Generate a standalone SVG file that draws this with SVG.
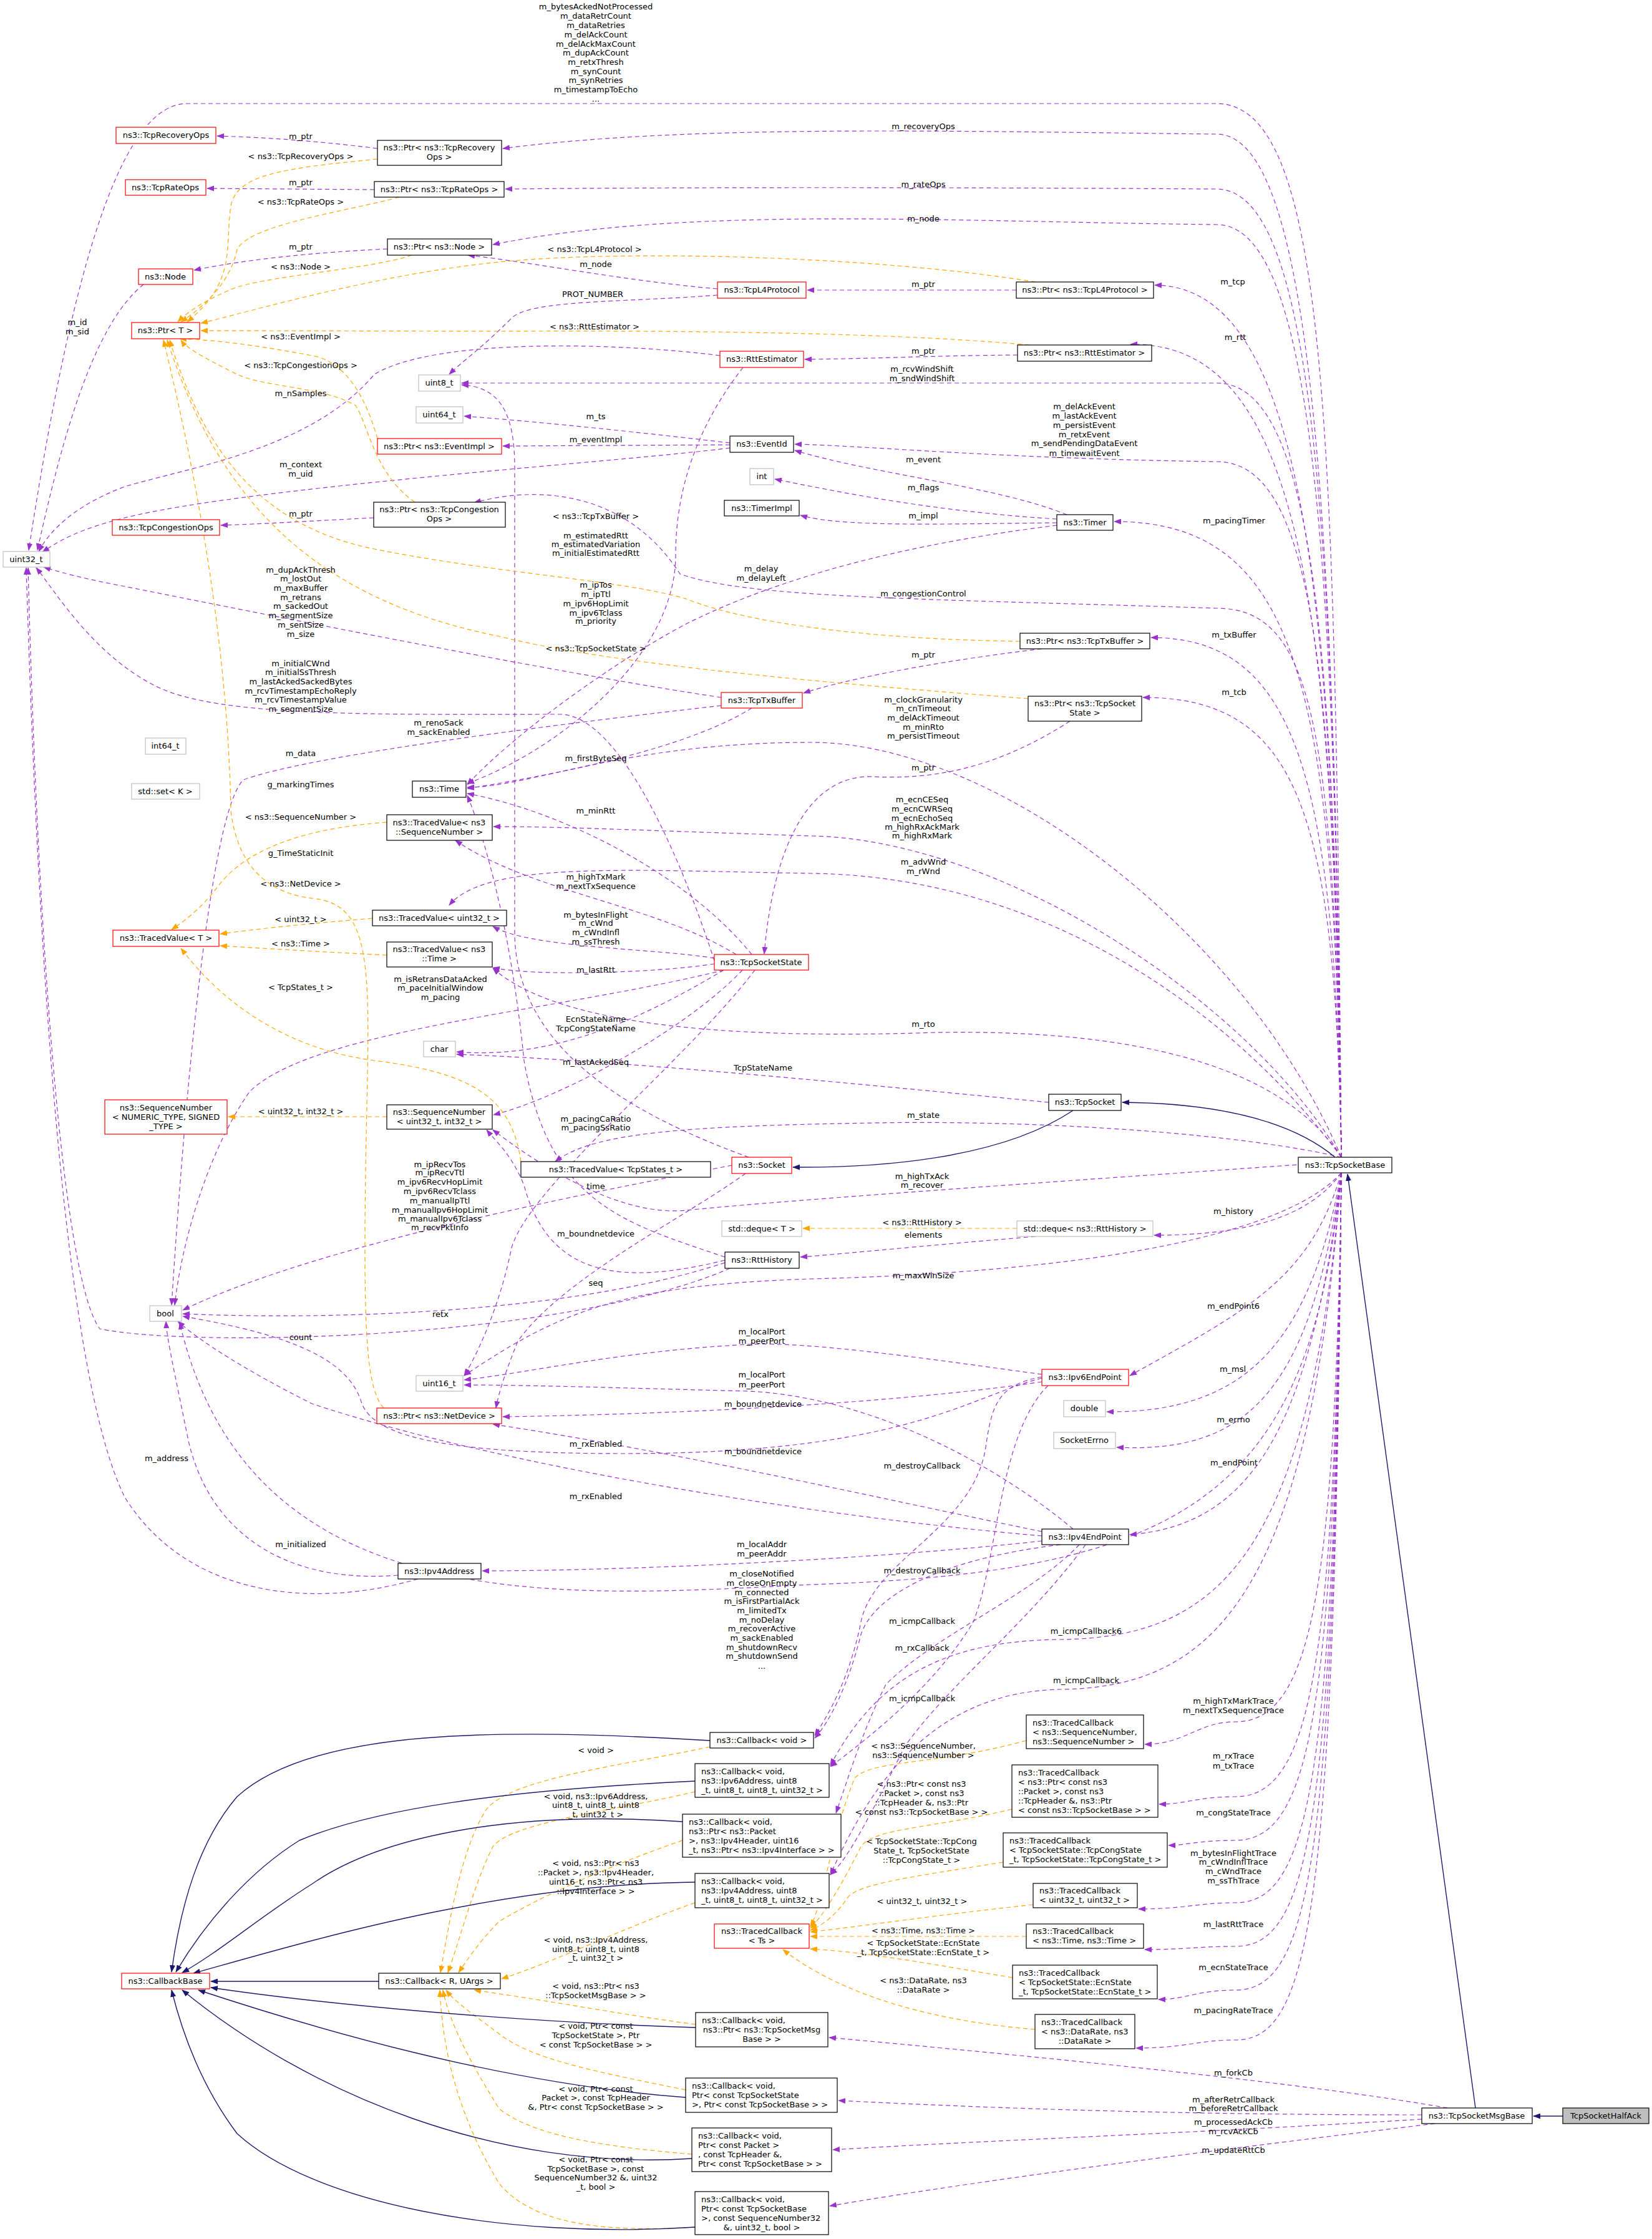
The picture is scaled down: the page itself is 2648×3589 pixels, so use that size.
<svg xmlns="http://www.w3.org/2000/svg" width="2648" height="3589" viewBox="0 0 2648 3589">
<style>
text{font-family:"DejaVu Sans","Liberation Sans",sans-serif;font-size:13px;fill:#000}
.n rect{fill:#fff;stroke:#000;stroke-width:1.2}
.r rect{fill:#fff;stroke:#f00;stroke-width:1.2}
.g rect{fill:#fff;stroke:#bfbfbf;stroke-width:1.2}
.h rect{fill:#bfbfbf;stroke:#000;stroke-width:1.2}
.c{text-anchor:middle}
.p{fill:none;stroke:#9a32cd;stroke-width:1.2;stroke-dasharray:7,5;marker-end:url(#mp)}
.o{fill:none;stroke:#ffa500;stroke-width:1.2;stroke-dasharray:7,5;marker-end:url(#mo)}
.b{fill:none;stroke:#191970;stroke-width:1.4;marker-end:url(#mb)}
.l text{text-anchor:middle}
</style>
<defs>
<marker id="mp" markerWidth="12" markerHeight="9" refX="11" refY="4.5" orient="auto" markerUnits="userSpaceOnUse"><path d="M0,0 L12,4.5 L0,9 z" fill="#9a32cd"/></marker>
<marker id="mo" markerWidth="12" markerHeight="9" refX="11" refY="4.5" orient="auto" markerUnits="userSpaceOnUse"><path d="M0,0 L12,4.5 L0,9 z" fill="#ffa500"/></marker>
<marker id="mb" markerWidth="12" markerHeight="9" refX="11" refY="4.5" orient="auto" markerUnits="userSpaceOnUse"><path d="M0,0 L12,4.5 L0,9 z" fill="#191970"/></marker>
</defs>
<rect width="2648" height="3589" fill="#fff"/>
<g id="connectors">
<!-- TcpSocketBase members -->
<path class="p" d="M2150,1855 C2140,700 2130,166 1950,166 L300,166 C200,166 120,400 46,882"/>
<path class="p" d="M2150,1855 C2140,800 2100,215 1950,215 C1500,210 1100,200 806,238"/>
<path class="p" d="M2150,1855 C2140,800 2100,303 1950,303 C1500,300 1100,300 810,303"/>
<path class="p" d="M2150,1855 C2140,850 2100,360 1950,360 C1500,355 1100,330 790,392"/>
<path class="p" d="M2150,1855 C2140,900 2080,460 1851,457"/>
<path class="p" d="M2150,1855 C2140,950 2080,548 1812,552"/>
<path class="p" d="M2150,1855 C2140,1000 2100,614 1950,614 L740,614"/>
<path class="p" d="M2150,1855 C2140,1050 2100,740 1950,740 C1600,735 1400,715 1274,712"/>
<path class="p" d="M2150,1855 C2140,1100 2080,836 1786,836"/>
<path class="p" d="M2150,1855 C2140,1150 2100,975 1950,975 C1500,960 1200,960 1090,920 C1000,780 850,780 760,806"/>
<path class="p" d="M2150,1855 C2140,1250 2080,1022 1845,1022"/>
<path class="p" d="M2150,1855 C2140,1300 2080,1118 1832,1118"/>
<path class="p" d="M2150,1855 C2000,1500 1600,1190 1300,1190 C1000,1190 850,1262 749,1262"/>
<path class="p" d="M2150,1855 C2000,1600 1600,1345 1300,1340 C1000,1330 900,1325 791,1325"/>
<path class="p" d="M2150,1855 C2000,1650 1700,1405 1300,1400 C1000,1395 780,1380 720,1451"/>
<path class="p" d="M2150,1855 C2050,1700 1800,1650 1500,1655 C1200,1665 900,1650 790,1552"/>
<path class="p" d="M2150,1855 C2000,1820 1700,1795 1400,1800 C1100,1805 950,1815 890,1862"/>
<path class="p" d="M2150,1862 C1900,1880 1300,1920 1100,1940 C1000,1950 880,1880 790,1811"/>
<path class="p" d="M2150,1880 C2100,1950 2000,1980 1850,1980"/>
<path class="p" d="M2150,1880 C2050,1990 1700,2040 1300,2050 C1000,2060 900,2100 744,2205"/>
<path class="p" d="M2150,1880 C2100,2050 2000,2100 1811,2205"/>
<path class="p" d="M2150,1880 C2100,2150 2000,2265 1774,2263"/>
<path class="p" d="M2150,1880 C2100,2230 2000,2330 1790,2320"/>
<path class="p" d="M2150,1880 C2100,2300 2000,2445 1811,2460"/>
<path class="p" d="M2150,1880 C2100,2400 1900,2520 1300,2540 C900,2560 400,2600 288,2120"/>
<path class="p" d="M2150,1880 C2100,2500 1950,2625 1700,2628 C1500,2630 1400,2700 1331,2830"/>
<path class="p" d="M2150,1880 C2100,2550 1950,2705 1700,2708 C1500,2712 1400,2850 1331,3005"/>
<path class="p" d="M2150,1880 C2140,2560 2100,2760 1980,2760 C1920,2760 1900,2796 1835,2796"/>
<path class="p" d="M2150,1880 C2140,2680 2100,2880 1980,2880 C1920,2880 1900,2892 1858,2892"/>
<path class="p" d="M2150,1880 C2140,2750 2100,2950 1980,2950 C1920,2950 1900,2958 1873,2958"/>
<path class="p" d="M2150,1880 C2140,2850 2100,3050 1980,3050 C1920,3050 1900,3060 1825,3060"/>
<path class="p" d="M2150,1880 C2140,2920 2100,3120 1980,3120 C1920,3120 1900,3125 1835,3125"/>
<path class="p" d="M2150,1880 C2140,2990 2100,3190 1980,3190 C1920,3190 1900,3205 1857,3205"/>
<path class="p" d="M2150,1880 C2140,3070 2100,3270 1980,3270 C1920,3270 1900,3283 1821,3283"/>
<!-- TcpSocketMsgBase members -->
<path class="p" d="M2320,3379 C2100,3340 1700,3300 1329,3266"/>
<path class="p" d="M2279,3390 C1900,3390 1600,3380 1344,3367"/>
<path class="p" d="M2279,3397 C1900,3420 1600,3430 1335,3446"/>
<path class="p" d="M2300,3404 C2000,3440 1600,3490 1330,3536"/>
<!-- other members -->
<path class="p" d="M605,238 C500,225 420,220 348,218"/>
<path class="p" d="M600,304 L332,302"/>
<path class="p" d="M621,399 C500,405 400,415 311,433"/>
<path class="p" d="M230,456 C150,520 100,700 60,882"/>
<path class="p" d="M1150,463 C1000,450 850,420 750,409"/>
<path class="p" d="M1150,473 C1000,485 850,480 820,510 C770,560 740,580 720,600"/>
<path class="p" d="M1629,465 L1294,465"/>
<path class="p" d="M1631,569 C1500,570 1400,575 1290,576"/>
<path class="p" d="M1154,570 C1000,550 700,540 600,600 C500,720 300,750 200,780 C120,810 80,850 62,884"/>
<path class="p" d="M1191,589 C1120,680 1083,780 1083,890 C1083,1050 900,1200 749,1256"/>
<path class="p" d="M1170,710 C1000,690 850,675 744,667"/>
<path class="p" d="M1170,713 L806,715"/>
<path class="p" d="M1170,718 C1000,740 400,780 200,830 C120,850 90,870 68,885"/>
<path class="p" d="M599,830 C500,835 420,840 354,842"/>
<path class="p" d="M1710,825 C1600,780 1400,760 1274,722"/>
<path class="p" d="M1694,832 C1500,820 1350,790 1242,768"/>
<path class="p" d="M1694,838 C1500,840 1350,845 1283,826"/>
<path class="p" d="M1694,842 C1550,860 1300,900 1100,1000 C950,1080 800,1200 749,1258"/>
<path class="p" d="M1670,1040 C1500,1060 1350,1090 1288,1111"/>
<path class="p" d="M1156,1118 C900,1080 400,980 200,940 C120,925 90,915 70,909"/>
<path class="p" d="M1156,1131 C900,1160 500,1210 390,1250 C340,1300 300,1700 275,2092"/>
<path class="p" d="M1205,1135 C1100,1200 900,1240 749,1264"/>
<path class="p" d="M1715,1156 C1600,1230 1500,1250 1400,1245 C1300,1240 1240,1350 1225,1529"/>
<path class="p" d="M1145,1540 C1100,1400 1000,1150 900,1145 C600,1145 350,1150 250,1100 C150,1050 90,950 58,910"/>
<path class="p" d="M1205,1530 C1100,1400 900,1300 749,1272"/>
<path class="p" d="M1180,1530 C1050,1450 850,1430 730,1347"/>
<path class="p" d="M1145,1536 C1050,1520 850,1520 790,1485"/>
<path class="p" d="M1145,1545 C1050,1560 850,1565 790,1551"/>
<path class="p" d="M1160,1555 C900,1620 500,1650 400,1750 C330,1850 290,2000 280,2092"/>
<path class="p" d="M1160,1555 C1050,1620 900,1700 732,1686"/>
<path class="p" d="M1190,1555 C1100,1650 900,1760 791,1787"/>
<path class="p" d="M1210,1555 C1100,1700 850,1900 820,2000 C800,2100 760,2180 744,2205"/>
<path class="p" d="M1681,1767 C1400,1740 1000,1700 732,1690"/>
<path class="p" d="M1173,1868 C900,1920 500,2000 293,2100"/>
<path class="p" d="M1195,1881 C1100,1950 900,2050 830,2150 C810,2200 800,2230 795,2257"/>
<path class="p" d="M1200,1855 C1050,1800 830,1700 825,1500 L825,750 C825,660 800,620 740,617"/>
<path class="p" d="M1162,2015 C1000,1960 880,1930 840,1700 C820,1500 780,1350 749,1275"/>
<path class="p" d="M1162,2020 C1000,2060 880,2050 840,1900 C820,1850 795,1830 780,1811"/>
<path class="p" d="M1162,2024 C900,2110 500,2115 293,2106"/>
<path class="p" d="M1170,2033 C900,2150 300,2160 160,2130 C100,2050 60,1500 45,910"/>
<path class="p" d="M1660,1982 C1500,1995 1350,2010 1283,2015"/>
<path class="p" d="M1670,2203 C1500,2180 1300,2150 1200,2155 C1000,2165 850,2200 744,2212"/>
<path class="p" d="M1720,2451 C1600,2350 1400,2240 1200,2230 C1000,2225 850,2220 744,2220"/>
<path class="p" d="M1670,2215 C1500,2240 1200,2265 806,2271"/>
<path class="p" d="M1670,2455 C1400,2400 1100,2330 790,2283"/>
<path class="p" d="M1670,2209 C1550,2240 1450,2330 1000,2330 C700,2330 600,2300 580,2250 C560,2180 470,2140 293,2110"/>
<path class="p" d="M1670,2462 C1300,2430 800,2350 500,2250 C400,2200 320,2150 285,2118"/>
<path class="p" d="M670,2531 C500,2580 300,2560 200,2400 C100,2200 60,1500 42,910"/>
<path class="p" d="M638,2525 C450,2540 330,2450 300,2300 C280,2200 268,2150 266,2118"/>
<path class="p" d="M1670,2470 C1400,2500 1000,2518 773,2518"/>
<path class="p" d="M1670,2207 C1600,2220 1590,2250 1580,2320 C1560,2450 1400,2500 1380,2600 C1360,2700 1320,2760 1306,2782"/>
<path class="p" d="M1700,2476 C1500,2500 1400,2560 1380,2620 C1360,2700 1330,2760 1306,2786"/>
<path class="p" d="M1680,2221 C1600,2300 1600,2500 1560,2600 C1500,2700 1400,2780 1331,2832"/>
<path class="p" d="M1730,2476 C1650,2560 1500,2620 1420,2700 C1380,2780 1360,2850 1340,2906"/>
<path class="p" d="M1740,2476 C1650,2600 1520,2700 1450,2800 C1400,2900 1360,2980 1331,3005"/>
<!-- template instantiations -->
<path class="o" d="M605,255 C450,270 380,280 370,330 C360,400 380,450 300,516"/>
<path class="o" d="M640,316 C550,340 400,360 380,400 C370,450 330,490 290,516"/>
<path class="o" d="M660,409 C600,430 450,440 380,460 C330,480 300,500 285,516"/>
<path class="o" d="M1660,452 C1400,410 1000,400 800,420 C600,440 400,500 322,518"/>
<path class="o" d="M1650,553 C1400,530 1000,530 800,531 L322,530"/>
<path class="o" d="M605,703 C590,650 560,580 500,570 C420,555 350,545 288,543"/>
<path class="o" d="M665,805 C600,760 590,680 570,650 C520,620 420,620 380,600 C340,580 300,560 290,545"/>
<path class="o" d="M1635,1028 C1400,1025 1200,1000 1100,960 C1000,930 800,920 600,880 C400,840 320,700 272,545"/>
<path class="o" d="M1648,1120 C1400,1100 1000,1070 800,1020 C500,960 350,800 268,545"/>
<path class="o" d="M615,2257 C590,2230 585,2150 585,2000 C585,1600 620,1450 500,1440 C420,1430 380,1380 370,1300 C365,1000 300,700 262,545"/>
<path class="o" d="M620,1318 C450,1330 380,1380 350,1420 C320,1460 290,1480 275,1490"/>
<path class="o" d="M597,1472 C500,1480 420,1488 353,1497"/>
<path class="o" d="M620,1531 C500,1525 420,1520 353,1516"/>
<path class="o" d="M835,1862 C820,1760 760,1720 600,1700 C450,1680 350,1600 290,1520"/>
<path class="o" d="M620,1790 L366,1790"/>
<path class="o" d="M1630,1969 L1287,1969"/>
<path class="o" d="M1138,2800 C1000,2830 820,2850 780,2900 C740,2960 720,3080 706,3162"/>
<path class="o" d="M1114,2872 C1000,2900 820,2920 790,2960 C760,3020 740,3100 718,3162"/>
<path class="o" d="M1094,2950 C950,3000 850,3050 800,3080 C770,3110 750,3140 735,3162"/>
<path class="o" d="M1114,3050 C1000,3090 900,3140 804,3172"/>
<path class="o" d="M1115,3245 C1000,3230 900,3210 760,3190"/>
<path class="o" d="M1099,3350 C950,3320 850,3300 800,3260 C760,3230 730,3210 715,3190"/>
<path class="o" d="M1109,3453 C950,3440 850,3420 800,3380 C750,3300 720,3240 710,3190"/>
<path class="o" d="M1114,3570 C950,3580 850,3560 800,3500 C740,3400 710,3300 705,3190"/>
<path class="o" d="M1645,2790 C1500,2830 1400,2820 1370,2850 C1330,2950 1320,3050 1299,3088"/>
<path class="o" d="M1622,2900 C1500,2930 1400,2930 1380,2960 C1350,3020 1320,3070 1299,3091"/>
<path class="o" d="M1608,2985 C1450,3010 1380,3020 1360,3040 C1340,3070 1320,3085 1299,3094"/>
<path class="o" d="M1656,3053 C1500,3070 1400,3085 1299,3097"/>
<path class="o" d="M1645,3104 L1299,3104"/>
<path class="o" d="M1623,3170 C1500,3150 1400,3130 1299,3124"/>
<path class="o" d="M1659,3253 C1500,3240 1350,3200 1255,3125"/>
<!-- inheritance -->
<path class="b" d="M607,3176 L338,3176"/>
<path class="b" d="M1138,2790 C800,2770 500,2770 380,2880 C320,2950 290,3050 275,3161"/>
<path class="b" d="M1114,2855 C800,2870 600,2900 480,2950 C400,3000 330,3080 282,3161"/>
<path class="b" d="M1094,2920 C800,2900 600,2950 500,3020 C420,3070 350,3130 292,3162"/>
<path class="b" d="M1114,3017 C800,3020 500,3110 310,3163"/>
<path class="b" d="M1115,3250 C800,3240 500,3210 338,3186"/>
<path class="b" d="M1099,3362 C800,3340 500,3250 318,3190"/>
<path class="b" d="M1109,3460 C800,3480 500,3360 292,3190"/>
<path class="b" d="M1114,3570 C800,3590 500,3530 380,3420 C320,3340 290,3250 275,3190"/>
<path class="b" d="M2140,1855 C2050,1780 1900,1768 1799,1767"/>
<path class="b" d="M1720,1780 C1600,1860 1400,1872 1271,1871"/>
<path class="b" d="M2365,3379 L2160,1882"/>
<path class="b" d="M2505,3392 L2458,3392"/>
</g>
<g id="labels" class="l">
<text x="955" y="15">m_bytesAckedNotProcessed</text><text x="955" y="30">m_dataRetrCount</text><text x="955" y="45">m_dataRetries</text><text x="955" y="60">m_delAckCount</text><text x="955" y="75">m_delAckMaxCount</text><text x="955" y="89">m_dupAckCount</text><text x="955" y="104">m_retxThresh</text><text x="955" y="119">m_synCount</text><text x="955" y="133">m_synRetries</text><text x="955" y="148">m_timestampToEcho</text><text x="955" y="163">...</text>
<text x="1480" y="207">m_recoveryOps</text>
<text x="1480" y="300">m_rateOps</text>
<text x="1480" y="355">m_node</text>
<text x="1976" y="456">m_tcp</text>
<text x="1980" y="545">m_rtt</text>
<text x="1478" y="596">m_rcvWindShift</text><text x="1478" y="611">m_sndWindShift</text>
<text x="1738" y="656">m_delAckEvent</text><text x="1738" y="671">m_lastAckEvent</text><text x="1738" y="686">m_persistEvent</text><text x="1738" y="701">m_retxEvent</text><text x="1738" y="715">m_sendPendingDataEvent</text><text x="1738" y="731">m_timewaitEvent</text>
<text x="1978" y="839">m_pacingTimer</text>
<text x="1480" y="956">m_congestionControl</text>
<text x="1978" y="1022">m_txBuffer</text>
<text x="1978" y="1114">m_tcb</text>
<text x="1480" y="1126">m_clockGranularity</text><text x="1480" y="1140">m_cnTimeout</text><text x="1480" y="1155">m_delAckTimeout</text><text x="1480" y="1170">m_minRto</text><text x="1480" y="1184">m_persistTimeout</text>
<text x="1478" y="1286">m_ecnCESeq</text><text x="1478" y="1301">m_ecnCWRSeq</text><text x="1478" y="1316">m_ecnEchoSeq</text><text x="1478" y="1330">m_highRxAckMark</text><text x="1478" y="1344">m_highRxMark</text>
<text x="1480" y="1386">m_advWnd</text><text x="1480" y="1401">m_rWnd</text>
<text x="1480" y="1646">m_rto</text>
<text x="1223" y="1716">TcpStateName</text>
<text x="1480" y="1792">m_state</text>
<text x="1478" y="1890">m_highTxAck</text><text x="1478" y="1904">m_recover</text>
<text x="1977" y="1946">m_history</text>
<text x="1480" y="2049">m_maxWinSize</text>
<text x="1977" y="2098">m_endPoint6</text>
<text x="1976" y="2199">m_msl</text>
<text x="1977" y="2280">m_errno</text>
<text x="1978" y="2349">m_endPoint</text>
<text x="1221" y="2527">m_closeNotified</text><text x="1221" y="2542">m_closeOnEmpty</text><text x="1221" y="2557">m_connected</text><text x="1221" y="2571">m_isFirstPartialAck</text><text x="1221" y="2586">m_limitedTx</text><text x="1221" y="2601">m_noDelay</text><text x="1221" y="2615">m_recoverActive</text><text x="1221" y="2630">m_sackEnabled</text><text x="1221" y="2645">m_shutdownRecv</text><text x="1221" y="2659">m_shutdownSend</text><text x="1221" y="2675">...</text>
<text x="1741" y="2619">m_icmpCallback6</text>
<text x="1741" y="2698">m_icmpCallback</text>
<text x="1977" y="2731">m_highTxMarkTrace</text><text x="1977" y="2746">m_nextTxSequenceTrace</text>
<text x="1977" y="2819">m_rxTrace</text><text x="1977" y="2835">m_txTrace</text>
<text x="1977" y="2910">m_congStateTrace</text>
<text x="1977" y="2975">m_bytesInFlightTrace</text><text x="1977" y="2989">m_cWndInflTrace</text><text x="1977" y="3004">m_cWndTrace</text><text x="1977" y="3019">m_ssThTrace</text>
<text x="1977" y="3089">m_lastRttTrace</text>
<text x="1977" y="3158">m_ecnStateTrace</text>
<text x="1977" y="3227">m_pacingRateTrace</text>
<text x="1977" y="3327">m_forkCb</text>
<text x="1977" y="3370">m_afterRetrCallback</text><text x="1977" y="3384">m_beforeRetrCallback</text>
<text x="1977" y="3406">m_processedAckCb</text><text x="1977" y="3421">m_rcvAckCb</text>
<text x="1977" y="3451">m_updateRttCb</text>
<text x="482" y="223">m_ptr</text>
<text x="482" y="255">&lt; ns3::TcpRecoveryOps &gt;</text>
<text x="482" y="297">m_ptr</text>
<text x="482" y="328">&lt; ns3::TcpRateOps &gt;</text>
<text x="482" y="400">m_ptr</text>
<text x="482" y="432">&lt; ns3::Node &gt;</text>
<text x="953" y="404">&lt; ns3::TcpL4Protocol &gt;</text>
<text x="955" y="428">m_node</text>
<text x="950" y="476">PROT_NUMBER</text>
<text x="1480" y="460">m_ptr</text>
<text x="953" y="528">&lt; ns3::RttEstimator &gt;</text>
<text x="1480" y="567">m_ptr</text>
<text x="482" y="544">&lt; ns3::EventImpl &gt;</text>
<text x="482" y="590">&lt; ns3::TcpCongestionOps &gt;</text>
<text x="482" y="635">m_nSamples</text>
<text x="124" y="521">m_id</text><text x="124" y="536">m_sid</text>
<text x="955" y="672">m_ts</text>
<text x="955" y="709">m_eventImpl</text>
<text x="482" y="749">m_context</text><text x="482" y="764">m_uid</text>
<text x="1480" y="741">m_event</text>
<text x="1480" y="786">m_flags</text>
<text x="1480" y="831">m_impl</text>
<text x="482" y="828">m_ptr</text>
<text x="955" y="832">&lt; ns3::TcpTxBuffer &gt;</text>
<text x="955" y="863">m_estimatedRtt</text><text x="955" y="877">m_estimatedVariation</text><text x="955" y="891">m_initialEstimatedRtt</text>
<text x="1220" y="916">m_delay</text><text x="1220" y="931">m_delayLeft</text>
<text x="482" y="918">m_dupAckThresh</text><text x="482" y="932">m_lostOut</text><text x="482" y="947">m_maxBuffer</text><text x="482" y="962">m_retrans</text><text x="482" y="976">m_sackedOut</text><text x="482" y="991">m_segmentSize</text><text x="482" y="1006">m_sentSize</text><text x="482" y="1021">m_size</text>
<text x="955" y="942">m_ipTos</text><text x="955" y="957">m_ipTtl</text><text x="955" y="972">m_ipv6HopLimit</text><text x="955" y="987">m_ipv6Tclass</text><text x="955" y="1000">m_priority</text>
<text x="955" y="1044">&lt; ns3::TcpSocketState &gt;</text>
<text x="1480" y="1054">m_ptr</text>
<text x="482" y="1068">m_initialCWnd</text><text x="482" y="1082">m_initialSsThresh</text><text x="482" y="1097">m_lastAckedSackedBytes</text><text x="482" y="1112">m_rcvTimestampEchoReply</text><text x="482" y="1126">m_rcvTimestampValue</text><text x="482" y="1141">m_segmentSize</text>
<text x="703" y="1163">m_renoSack</text><text x="703" y="1178">m_sackEnabled</text>
<text x="482" y="1212">m_data</text>
<text x="955" y="1220">m_firstByteSeq</text>
<text x="1480" y="1235">m_ptr</text>
<text x="482" y="1262">g_markingTimes</text>
<text x="955" y="1304">m_minRtt</text>
<text x="482" y="1314">&lt; ns3::SequenceNumber &gt;</text>
<text x="482" y="1372">g_TimeStaticInit</text>
<text x="955" y="1410">m_highTxMark</text><text x="955" y="1425">m_nextTxSequence</text>
<text x="482" y="1421">&lt; ns3::NetDevice &gt;</text>
<text x="955" y="1471">m_bytesInFlight</text><text x="955" y="1484">m_cWnd</text><text x="955" y="1499">m_cWndInfl</text><text x="955" y="1514">m_ssThresh</text>
<text x="482" y="1478">&lt; uint32_t &gt;</text>
<text x="482" y="1517">&lt; ns3::Time &gt;</text>
<text x="955" y="1559">m_lastRtt</text>
<text x="706" y="1574">m_isRetransDataAcked</text><text x="706" y="1588">m_paceInitialWindow</text><text x="706" y="1603">m_pacing</text>
<text x="482" y="1587">&lt; TcpStates_t &gt;</text>
<text x="955" y="1638">EcnStateName</text><text x="955" y="1653">TcpCongStateName</text>
<text x="955" y="1707">m_lastAckedSeq</text>
<text x="482" y="1786">&lt; uint32_t, int32_t &gt;</text>
<text x="955" y="1798">m_pacingCaRatio</text><text x="955" y="1812">m_pacingSsRatio</text>
<text x="705" y="1871">m_ipRecvTos</text><text x="705" y="1884">m_ipRecvTtl</text><text x="705" y="1899">m_ipv6RecvHopLimit</text><text x="705" y="1914">m_ipv6RecvTclass</text><text x="705" y="1929">m_manualIpTtl</text><text x="705" y="1944">m_manualIpv6HopLimit</text><text x="705" y="1958">m_manualIpv6Tclass</text><text x="705" y="1972">m_recvPktInfo</text>
<text x="955" y="1906">time</text>
<text x="1478" y="1964">&lt; ns3::RttHistory &gt;</text>
<text x="955" y="1982">m_boundnetdevice</text>
<text x="1480" y="1984">elements</text>
<text x="955" y="2061">seq</text>
<text x="706" y="2111">retx</text>
<text x="482" y="2148">count</text>
<text x="1221" y="2139">m_localPort</text><text x="1221" y="2154">m_peerPort</text>
<text x="1221" y="2208">m_localPort</text><text x="1221" y="2224">m_peerPort</text>
<text x="1223" y="2255">m_boundnetdevice</text>
<text x="955" y="2319">m_rxEnabled</text>
<text x="1223" y="2331">m_boundnetdevice</text>
<text x="267" y="2342">m_address</text>
<text x="1478" y="2354">m_destroyCallback</text>
<text x="955" y="2403">m_rxEnabled</text>
<text x="482" y="2480">m_initialized</text>
<text x="1221" y="2480">m_localAddr</text><text x="1221" y="2495">m_peerAddr</text>
<text x="1478" y="2522">m_destroyCallback</text>
<text x="1478" y="2603">m_icmpCallback</text>
<text x="1478" y="2646">m_rxCallback</text>
<text x="1478" y="2727">m_icmpCallback</text>
<text x="955" y="2810">&lt; void &gt;</text>
<text x="955" y="2884">&lt; void, ns3::Ipv6Address,</text><text x="955" y="2898">uint8_t, uint8_t, uint8</text><text x="955" y="2913">_t, uint32_t &gt;</text>
<text x="955" y="2991">&lt; void, ns3::Ptr&lt; ns3</text><text x="955" y="3006">::Packet &gt;, ns3::Ipv4Header,</text><text x="955" y="3021">uint16_t, ns3::Ptr&lt; ns3</text><text x="955" y="3036">::Ipv4Interface &gt; &gt;</text>
<text x="955" y="3114">&lt; void, ns3::Ipv4Address,</text><text x="955" y="3129">uint8_t, uint8_t, uint8</text><text x="955" y="3143">_t, uint32_t &gt;</text>
<text x="955" y="3188">&lt; void, ns3::Ptr&lt; ns3</text><text x="955" y="3203">::TcpSocketMsgBase &gt; &gt;</text>
<text x="955" y="3252">&lt; void, Ptr&lt; const</text><text x="955" y="3267">TcpSocketState &gt;, Ptr</text><text x="955" y="3282">&lt; const TcpSocketBase &gt; &gt;</text>
<text x="955" y="3353">&lt; void, Ptr&lt; const</text><text x="955" y="3367">Packet &gt;, const TcpHeader</text><text x="955" y="3382">&amp;, Ptr&lt; const TcpSocketBase &gt; &gt;</text>
<text x="955" y="3466">&lt; void, Ptr&lt; const</text><text x="955" y="3481">TcpSocketBase &gt;, const</text><text x="955" y="3495">SequenceNumber32 &amp;, uint32</text><text x="955" y="3510">_t, bool &gt;</text>
<text x="1480" y="2803">&lt; ns3::SequenceNumber,</text><text x="1480" y="2818">ns3::SequenceNumber &gt;</text>
<text x="1477" y="2864">&lt; ns3::Ptr&lt; const ns3</text><text x="1477" y="2879">::Packet &gt;, const ns3</text><text x="1477" y="2894">::TcpHeader &amp;, ns3::Ptr</text><text x="1477" y="2909">&lt; const ns3::TcpSocketBase &gt; &gt;</text>
<text x="1477" y="2956">&lt; TcpSocketState::TcpCong</text><text x="1477" y="2971">State_t, TcpSocketState</text><text x="1477" y="2986">::TcpCongState_t &gt;</text>
<text x="1478" y="3052">&lt; uint32_t, uint32_t &gt;</text>
<text x="1480" y="3099">&lt; ns3::Time, ns3::Time &gt;</text>
<text x="1480" y="3119">&lt; TcpSocketState::EcnState</text><text x="1480" y="3134">_t, TcpSocketState::EcnState_t &gt;</text>
<text x="1480" y="3179">&lt; ns3::DataRate, ns3</text><text x="1480" y="3194">::DataRate &gt;</text>
</g>
<g id="TcpRecoveryOps" class="r"><rect x="186" y="204" width="160" height="26"/><text class="c" x="266" y="221">ns3::TcpRecoveryOps</text></g>
<g id="PtrTcpRecoveryOps" class="n"><rect x="605" y="225" width="199" height="40"/><text class="c" x="704" y="241">ns3::Ptr&lt; ns3::TcpRecovery</text><text class="c" x="704" y="256">Ops &gt;</text></g>
<g id="TcpRateOps" class="r"><rect x="201" y="288" width="129" height="25"/><text class="c" x="265" y="305">ns3::TcpRateOps</text></g>
<g id="PtrTcpRateOps" class="n"><rect x="600" y="291" width="208" height="25"/><text class="c" x="704" y="308">ns3::Ptr&lt; ns3::TcpRateOps &gt;</text></g>
<g id="PtrNode" class="n"><rect x="621" y="383" width="167" height="26"/><text class="c" x="704" y="400">ns3::Ptr&lt; ns3::Node &gt;</text></g>
<g id="Node" class="r"><rect x="222" y="431" width="87" height="25"/><text class="c" x="265" y="448">ns3::Node</text></g>
<g id="PtrT" class="r"><rect x="211" y="517" width="109" height="26"/><text class="c" x="265" y="534">ns3::Ptr&lt; T &gt;</text></g>
<g id="TcpL4Protocol" class="r"><rect x="1150" y="452" width="142" height="26"/><text class="c" x="1221" y="469">ns3::TcpL4Protocol</text></g>
<g id="PtrTcpL4Protocol" class="n"><rect x="1629" y="452" width="220" height="26"/><text class="c" x="1739" y="469">ns3::Ptr&lt; ns3::TcpL4Protocol &gt;</text></g>
<g id="RttEstimator" class="r"><rect x="1154" y="563" width="134" height="26"/><text class="c" x="1221" y="580">ns3::RttEstimator</text></g>
<g id="PtrRttEstimator" class="n"><rect x="1631" y="553" width="215" height="26"/><text class="c" x="1738" y="570">ns3::Ptr&lt; ns3::RttEstimator &gt;</text></g>
<g id="uint8_t" class="g"><rect x="671" y="601" width="67" height="26"/><text class="c" x="704" y="618">uint8_t</text></g>
<g id="uint64_t" class="g"><rect x="667" y="652" width="75" height="26"/><text class="c" x="704" y="669">uint64_t</text></g>
<g id="PtrEventImpl" class="r"><rect x="605" y="703" width="199" height="25"/><text class="c" x="704" y="720">ns3::Ptr&lt; ns3::EventImpl &gt;</text></g>
<g id="EventId" class="n"><rect x="1170" y="699" width="102" height="26"/><text class="c" x="1221" y="716">ns3::EventId</text></g>
<g id="int" class="g"><rect x="1202" y="751" width="38" height="26"/><text class="c" x="1221" y="768">int</text></g>
<g id="TimerImpl" class="n"><rect x="1161" y="802" width="120" height="25"/><text class="c" x="1221" y="819">ns3::TimerImpl</text></g>
<g id="Timer" class="n"><rect x="1694" y="825" width="90" height="25"/><text class="c" x="1739" y="842">ns3::Timer</text></g>
<g id="PtrTcpCongestionOps" class="n"><rect x="599" y="805" width="211" height="40"/><text class="c" x="704" y="821">ns3::Ptr&lt; ns3::TcpCongestion</text><text class="c" x="704" y="836">Ops &gt;</text></g>
<g id="TcpCongestionOps" class="r"><rect x="180" y="833" width="172" height="25"/><text class="c" x="266" y="850">ns3::TcpCongestionOps</text></g>
<g id="uint32_t" class="g"><rect x="5" y="884" width="75" height="25"/><text class="c" x="42" y="901">uint32_t</text></g>
<g id="PtrTcpTxBuffer" class="n"><rect x="1635" y="1015" width="208" height="25"/><text class="c" x="1739" y="1032">ns3::Ptr&lt; ns3::TcpTxBuffer &gt;</text></g>
<g id="TcpTxBuffer" class="r"><rect x="1156" y="1110" width="130" height="25"/><text class="c" x="1221" y="1127">ns3::TcpTxBuffer</text></g>
<g id="PtrTcpSocketState" class="n"><rect x="1648" y="1116" width="182" height="40"/><text class="c" x="1739" y="1132">ns3::Ptr&lt; ns3::TcpSocket</text><text class="c" x="1739" y="1147">State &gt;</text></g>
<g id="int64_t" class="g"><rect x="233" y="1183" width="65" height="26"/><text class="c" x="265" y="1200">int64_t</text></g>
<g id="stdset" class="g"><rect x="211" y="1256" width="109" height="25"/><text class="c" x="265" y="1273">std::set&lt; K &gt;</text></g>
<g id="Time" class="n"><rect x="661" y="1252" width="86" height="26"/><text class="c" x="704" y="1269">ns3::Time</text></g>
<g id="TVSequenceNumber" class="n"><rect x="620" y="1306" width="169" height="41"/><text class="c" x="704" y="1323">ns3::TracedValue&lt; ns3</text><text class="c" x="704" y="1338">::SequenceNumber &gt;</text></g>
<g id="TVuint32" class="n"><rect x="597" y="1459" width="215" height="25"/><text class="c" x="704" y="1476">ns3::TracedValue&lt; uint32_t &gt;</text></g>
<g id="TVT" class="r"><rect x="181" y="1491" width="170" height="26"/><text class="c" x="266" y="1508">ns3::TracedValue&lt; T &gt;</text></g>
<g id="TVTime" class="n"><rect x="620" y="1510" width="169" height="40"/><text class="c" x="704" y="1526">ns3::TracedValue&lt; ns3</text><text class="c" x="704" y="1541">::Time &gt;</text></g>
<g id="TcpSocketState" class="r"><rect x="1145" y="1530" width="151" height="25"/><text class="c" x="1220" y="1547">ns3::TcpSocketState</text></g>
<g id="char" class="g"><rect x="679" y="1669" width="51" height="25"/><text class="c" x="704" y="1686">char</text></g>
<g id="TcpSocket" class="n"><rect x="1681" y="1754" width="116" height="26"/><text class="c" x="1739" y="1771">ns3::TcpSocket</text></g>
<g id="SeqNumT" class="r"><rect x="168" y="1763" width="196" height="55"/><text class="c" x="266" y="1780">ns3::SequenceNumber</text><text class="c" x="266" y="1795">&lt; NUMERIC_TYPE, SIGNED</text><text class="c" x="266" y="1810">_TYPE &gt;</text></g>
<g id="SeqNum32" class="n"><rect x="620" y="1771" width="169" height="39"/><text class="c" x="704" y="1787">ns3::SequenceNumber</text><text class="c" x="704" y="1802">&lt; uint32_t, int32_t &gt;</text></g>
<g id="TcpSocketBase" class="n"><rect x="2081" y="1855" width="150" height="25"/><text class="c" x="2156" y="1872">ns3::TcpSocketBase</text></g>
<g id="Socket" class="r"><rect x="1173" y="1855" width="96" height="26"/><text class="c" x="1221" y="1872">ns3::Socket</text></g>
<g id="TVTcpStates" class="n"><rect x="835" y="1862" width="304" height="25"/><text class="c" x="987" y="1879">ns3::TracedValue&lt; TcpStates_t &gt;</text></g>
<g id="dequeT" class="g"><rect x="1157" y="1957" width="128" height="25"/><text class="c" x="1221" y="1974">std::deque&lt; T &gt;</text></g>
<g id="dequeRttHistory" class="g"><rect x="1630" y="1957" width="218" height="25"/><text class="c" x="1739" y="1974">std::deque&lt; ns3::RttHistory &gt;</text></g>
<g id="RttHistory" class="n"><rect x="1162" y="2007" width="119" height="26"/><text class="c" x="1221" y="2024">ns3::RttHistory</text></g>
<g id="bool" class="g"><rect x="240" y="2093" width="51" height="25"/><text class="c" x="265" y="2110">bool</text></g>
<g id="Ipv6EndPoint" class="r"><rect x="1670" y="2195" width="139" height="26"/><text class="c" x="1739" y="2212">ns3::Ipv6EndPoint</text></g>
<g id="uint16_t" class="g"><rect x="667" y="2205" width="75" height="25"/><text class="c" x="704" y="2222">uint16_t</text></g>
<g id="double" class="g"><rect x="1705" y="2245" width="67" height="26"/><text class="c" x="1738" y="2262">double</text></g>
<g id="PtrNetDevice" class="r"><rect x="604" y="2257" width="200" height="25"/><text class="c" x="704" y="2274">ns3::Ptr&lt; ns3::NetDevice &gt;</text></g>
<g id="SocketErrno" class="g"><rect x="1689" y="2296" width="99" height="26"/><text class="c" x="1738" y="2313">SocketErrno</text></g>
<g id="Ipv4EndPoint" class="n"><rect x="1670" y="2451" width="139" height="25"/><text class="c" x="1739" y="2468">ns3::Ipv4EndPoint</text></g>
<g id="Ipv4Address" class="n"><rect x="638" y="2506" width="133" height="25"/><text class="c" x="704" y="2523">ns3::Ipv4Address</text></g>
<g id="TCSeqNum" class="n"><rect x="1645" y="2749" width="188" height="54"/><text x="1655" y="2766">ns3::TracedCallback</text><text x="1655" y="2781">&lt; ns3::SequenceNumber,</text><text x="1655" y="2796">ns3::SequenceNumber &gt;</text></g>
<g id="CallbackVoid" class="n"><rect x="1138" y="2777" width="166" height="25"/><text class="c" x="1221" y="2794">ns3::Callback&lt; void &gt;</text></g>
<g id="CallbackIpv6" class="n"><rect x="1114" y="2827" width="215" height="54"/><text x="1124" y="2844">ns3::Callback&lt; void,</text><text x="1124" y="2859">ns3::Ipv6Address, uint8</text><text x="1124" y="2874">_t, uint8_t, uint8_t, uint32_t &gt;</text></g>
<g id="TCPacket" class="n"><rect x="1622" y="2829" width="234" height="84"/><text x="1632" y="2846">ns3::TracedCallback</text><text x="1632" y="2861">&lt; ns3::Ptr&lt; const ns3</text><text x="1632" y="2876">::Packet &gt;, const ns3</text><text x="1632" y="2891">::TcpHeader &amp;, ns3::Ptr</text><text x="1632" y="2906">&lt; const ns3::TcpSocketBase &gt; &gt;</text></g>
<g id="CallbackIpv4Header" class="n"><rect x="1094" y="2908" width="254" height="69"/><text x="1104" y="2925">ns3::Callback&lt; void,</text><text x="1104" y="2940">ns3::Ptr&lt; ns3::Packet</text><text x="1104" y="2955">&gt;, ns3::Ipv4Header, uint16</text><text x="1104" y="2970">_t, ns3::Ptr&lt; ns3::Ipv4Interface &gt; &gt;</text></g>
<g id="TCCongState" class="n"><rect x="1608" y="2938" width="263" height="55"/><text x="1618" y="2955">ns3::TracedCallback</text><text x="1618" y="2970">&lt; TcpSocketState::TcpCongState</text><text x="1618" y="2985">_t, TcpSocketState::TcpCongState_t &gt;</text></g>
<g id="CallbackIpv4" class="n"><rect x="1114" y="3003" width="215" height="55"/><text x="1124" y="3020">ns3::Callback&lt; void,</text><text x="1124" y="3035">ns3::Ipv4Address, uint8</text><text x="1124" y="3050">_t, uint8_t, uint8_t, uint32_t &gt;</text></g>
<g id="TCuint32" class="n"><rect x="1656" y="3019" width="167" height="39"/><text x="1666" y="3035">ns3::TracedCallback</text><text x="1666" y="3050">&lt; uint32_t, uint32_t &gt;</text></g>
<g id="TCTs" class="r"><rect x="1145" y="3084" width="152" height="39"/><text class="c" x="1221" y="3100">ns3::TracedCallback</text><text class="c" x="1221" y="3115">&lt; Ts &gt;</text></g>
<g id="TCTime" class="n"><rect x="1645" y="3084" width="188" height="39"/><text x="1655" y="3100">ns3::TracedCallback</text><text x="1655" y="3115">&lt; ns3::Time, ns3::Time &gt;</text></g>
<g id="TCEcn" class="n"><rect x="1623" y="3150" width="232" height="54"/><text x="1633" y="3167">ns3::TracedCallback</text><text x="1633" y="3182">&lt; TcpSocketState::EcnState</text><text x="1633" y="3197">_t, TcpSocketState::EcnState_t &gt;</text></g>
<g id="CallbackBase" class="r"><rect x="195" y="3163" width="141" height="25"/><text class="c" x="265" y="3180">ns3::CallbackBase</text></g>
<g id="CallbackRUArgs" class="n"><rect x="607" y="3163" width="195" height="25"/><text class="c" x="704" y="3180">ns3::Callback&lt; R, UArgs &gt;</text></g>
<g id="CallbackMsgBase" class="n"><rect x="1115" y="3226" width="212" height="55"/><text x="1125" y="3243">ns3::Callback&lt; void,</text><text class="c" x="1221" y="3258">ns3::Ptr&lt; ns3::TcpSocketMsg</text><text class="c" x="1221" y="3273">Base &gt; &gt;</text></g>
<g id="TCDataRate" class="n"><rect x="1659" y="3229" width="160" height="55"/><text x="1669" y="3246">ns3::TracedCallback</text><text x="1669" y="3261">&lt; ns3::DataRate, ns3</text><text class="c" x="1739" y="3276">::DataRate &gt;</text></g>
<g id="CallbackTcpSocketState" class="n"><rect x="1099" y="3331" width="243" height="55"/><text x="1109" y="3348">ns3::Callback&lt; void,</text><text x="1109" y="3363">Ptr&lt; const TcpSocketState</text><text x="1109" y="3378">&gt;, Ptr&lt; const TcpSocketBase &gt; &gt;</text></g>
<g id="TcpSocketMsgBase" class="n"><rect x="2279" y="3379" width="177" height="25"/><text class="c" x="2367" y="3396">ns3::TcpSocketMsgBase</text></g>
<g id="TcpSocketHalfAck" class="h"><rect x="2505" y="3379" width="138" height="25"/><text class="c" x="2574" y="3396">TcpSocketHalfAck</text></g>
<g id="CallbackPacket" class="n"><rect x="1109" y="3411" width="224" height="70"/><text x="1119" y="3428">ns3::Callback&lt; void,</text><text x="1119" y="3443">Ptr&lt; const Packet &gt;</text><text x="1119" y="3458">, const TcpHeader &amp;,</text><text x="1119" y="3473">Ptr&lt; const TcpSocketBase &gt; &gt;</text></g>
<g id="CallbackTcpSocketBase" class="n"><rect x="1114" y="3513" width="214" height="69"/><text x="1124" y="3530">ns3::Callback&lt; void,</text><text x="1124" y="3545">Ptr&lt; const TcpSocketBase</text><text x="1124" y="3560">&gt;, const SequenceNumber32</text><text class="c" x="1221" y="3575">&amp;, uint32_t, bool &gt;</text></g>
</svg>
